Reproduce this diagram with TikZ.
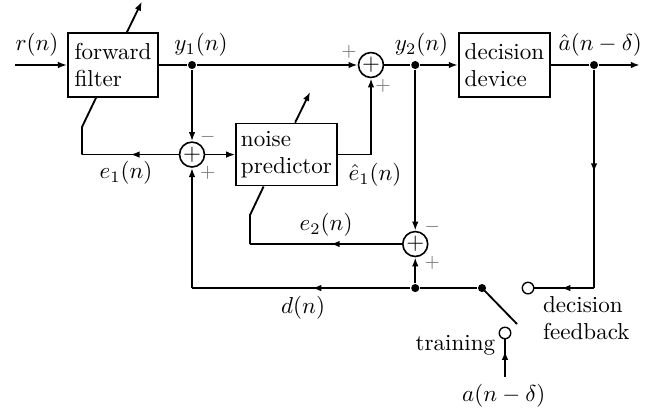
\documentclass[tikz,border=0pt]{standalone}
\usepackage{amsmath,amssymb}
\usepackage{xcolor}
\usetikzlibrary{arrows.meta,decorations.markings}
\definecolor{signgray}{HTML}{707070}

\begin{document}
\begin{tikzpicture}[
    >={Latex[length=1.4mm,width=1mm]},
    line width=0.8pt,
    block/.style={draw, minimum height=0.97cm, align=left, inner sep=2pt},
    sum/.style={draw, circle, minimum size=0.38cm, inner sep=0pt, line width=0.7pt},
    dot/.style={circle, fill, inner sep=0pt, minimum size=3.5pt},
    term/.style={circle, draw, fill=white, inner sep=0pt, minimum size=5pt, line width=0.6pt},
    midarrow/.style={postaction={decorate},
      decoration={markings, mark=at position #1 with {\arrow{>}}}},
    midarrow/.default=0.5,
    lbl/.style={inner sep=0.5pt},
    sgn/.style={text=signgray, font=\footnotesize, inner sep=0.5pt},
  ]
  \useasboundingbox (0,0) rectangle (10,6.296);

  % ---- blocks and adders
  \node[block, minimum width=1.37cm] (ff) at (1.723,5.305) {forward\\filter};
  \node[block, minimum width=1.51cm, minimum height=0.945cm] (np) at (4.367,3.94) {noise\\predictor};
  \node[block, minimum width=1.39cm] (dd) at (7.69,5.305) {decision\\device};
  \node[sum] (s1) at (2.927,3.94) {$+$};
  \node[sum] (s2) at (5.655,5.305) {$+$};
  \node[sum] (s3) at (6.33,2.576) {$+$};

  % ---- junctions, switch contacts, corners
  \node[dot] (y1dot) at (2.927,5.305) {};
  \node[dot] (y2dot) at (6.33,5.305) {};
  \node[dot] (adot) at (9.055,5.305) {};
  \node[dot] (ddot) at (6.33,1.905) {};
  \node[dot] (pivot) at (7.348,1.905) {};
  \node[term] (tdf) at (8.049,1.905) {};
  \node[term] (ttr) at (7.698,1.22) {};
  \coordinate (in) at (0.229,5.305);
  \coordinate (out) at (9.756,5.305);
  \coordinate (fbcorner) at (9.055,1.905);
  \coordinate (dcorner) at (2.927,1.905);
  \coordinate (asrc) at (7.698,0.549);
  \coordinate (blade) at (7.881,1.357);
  \coordinate (e1a) at (1.25,3.94);
  \coordinate (e1b) at (1.25,4.36);
  \coordinate (e2a) at (3.811,2.576);
  \coordinate (e2b) at (3.811,3.018);

  % ---- forward path
  \draw[->] (in) -- (ff);
  \draw (ff) -- (y1dot);
  \draw[->] (y1dot) -- (s2);
  \draw (s2) -- (y2dot);
  \draw[->] (y2dot) -- (dd);
  \draw (dd) -- (adot);
  \draw[->] (adot) -- (out);
  \draw[->] ([xshift=0.91cm]ff.north west) -- ++(0.23,0.47);
  \draw[->] ([xshift=0.91cm]np.north west) -- ++(0.23,0.47);

  % ---- noise prediction loop
  \draw[->] (y1dot) -- (s1);
  \draw[->] (s1) -- (np);
  \draw[midarrow] (s1) -- (e1a);
  \draw (e1a) -- (e1b) -- ([xshift=0.44cm]ff.south west);
  \draw[->] (np) -| (s2);
  \draw[->] (y2dot) -- (s3);
  \draw[midarrow=0.47] (s3) -- (e2a);
  \draw (e2a) -- (e2b) -- ([xshift=0.43cm]np.south west);

  % ---- reference and switch
  \draw (pivot) -- (ddot);
  \draw[midarrow=0.45] (ddot) -- (dcorner);
  \draw[->] (dcorner) -- (s1);
  \draw[->] (ddot) -- (s3);
  \draw (pivot.center) -- (blade);
  \draw[midarrow=0.47] (adot) -- (fbcorner);
  \draw[midarrow=0.55] (fbcorner) -- (tdf);
  \draw[midarrow=0.7] (asrc) -- (ttr);

  % ---- signal labels
  \node[lbl] (rlbl) at (0.564,5.61) {$r(n)$};
  \node[lbl] (y1lbl) at (3.064,5.61) {$y_1(n)$};
  \node[lbl] (y2lbl) at (6.425,5.61) {$y_2(n)$};
  \node[lbl] (ahatlbl) at (9.15,5.61) {$\hat{a}(n-\delta)$};
  \node[lbl] (e1lbl) at (1.92,3.66) {$e_1(n)$};
  \node[lbl] (e1hatlbl) at (5.716,3.628) {$\hat{e}_1(n)$};
  \node[lbl] (e2lbl) at (4.97,2.866) {$e_2(n)$};
  \node[lbl] (dlbl) at (4.62,1.60) {$d(n)$};
  \node[lbl, anchor=east] (trlbl) at (7.58,1.037) {training};
  \node[lbl, anchor=west, align=left] (dflbl) at (8.247,1.448) {decision\\feedback};
  \node[lbl] (alb) at (7.68,0.259) {$a(n-\delta)$};

  % ---- adder signs
  \node[sgn] (s1m) at ([shift={(0.24,0.27)}]s1.center) {$-$};
  \node[sgn] (s1p) at ([shift={(0.24,-0.28)}]s1.center) {$+$};
  \node[sgn] (s2pa) at ([shift={(-0.335,0.195)}]s2.center) {$+$};
  \node[sgn] (s2pb) at ([shift={(0.185,-0.325)}]s2.center) {$+$};
  \node[sgn] (s3m) at ([shift={(0.26,0.26)}]s3.center) {$-$};
  \node[sgn] (s3p) at ([shift={(0.26,-0.29)}]s3.center) {$+$};
\end{tikzpicture}
\end{document}
